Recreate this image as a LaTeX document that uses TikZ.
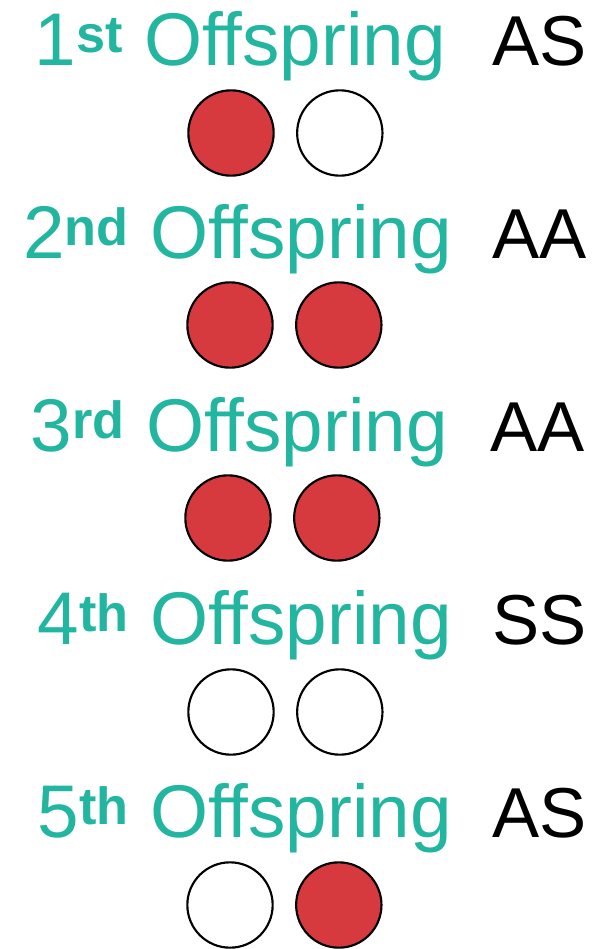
\documentclass[tikz,border=0pt]{standalone}
\usepackage{fontspec}
\setmainfont{Liberation Sans}
\usepackage{xcolor}
\usetikzlibrary{positioning}
\definecolor{tealOff}{HTML}{22B5A0}
\definecolor{alleleA}{HTML}{D63A3F}

\begin{document}
\begin{tikzpicture}[x=0.75pt, y=-0.75pt,
    title/.style={anchor=base east, text=tealOff, inner sep=0pt,
                  font=\fontsize{56}{60}\selectfont},
    geno/.style={anchor=base west, inner sep=0pt,
                 font=\fontsize{53}{60}\selectfont},
    allele/.style={circle, draw=black, line width=1.6pt,
                   minimum size=64pt, inner sep=0pt},
    dom/.style={allele, fill=alleleA},
    rec/.style={allele, fill=white},
  ]
    \useasboundingbox (0,0) rectangle (606,949);
    % offspring 1
    \node[title] (t1) at (446,65) {1\textsuperscript{\bfseries st} Offspring};
    \node[geno] (g1) at (492,65) {AS};
    \node[dom] (c1a) at (231,133) {};
    \node[rec, right=16pt of c1a] (c1b) {};
    % offspring 2
    \node[title] (t2) at (452,258) {2\textsuperscript{\bfseries nd} Offspring};
    \node[geno] (g2) at (492,258) {AA};
    \node[dom] (c2a) at (230,325) {};
    \node[dom, right=16pt of c2a] (c2b) {};
    % offspring 3
    \node[title] (t3) at (448,451) {3\textsuperscript{\bfseries rd} Offspring};
    \node[geno] (g3) at (490,451) {AA};
    \node[dom] (c3a) at (228,518) {};
    \node[dom, right=16pt of c3a] (c3b) {};
    % offspring 4
    \node[title] (t4) at (452,644) {4\textsuperscript{\bfseries th} Offspring};
    \node[geno] (g4) at (492,644) {SS};
    \node[rec] (c4a) at (231,712) {};
    \node[rec, right=16pt of c4a] (c4b) {};
    % offspring 5
    \node[title] (t5) at (452,837) {5\textsuperscript{\bfseries th} Offspring};
    \node[geno] (g5) at (492,837) {AS};
    \node[rec] (c5a) at (230,905) {};
    \node[dom, right=16pt of c5a] (c5b) {};
  \end{tikzpicture}
\end{document}
